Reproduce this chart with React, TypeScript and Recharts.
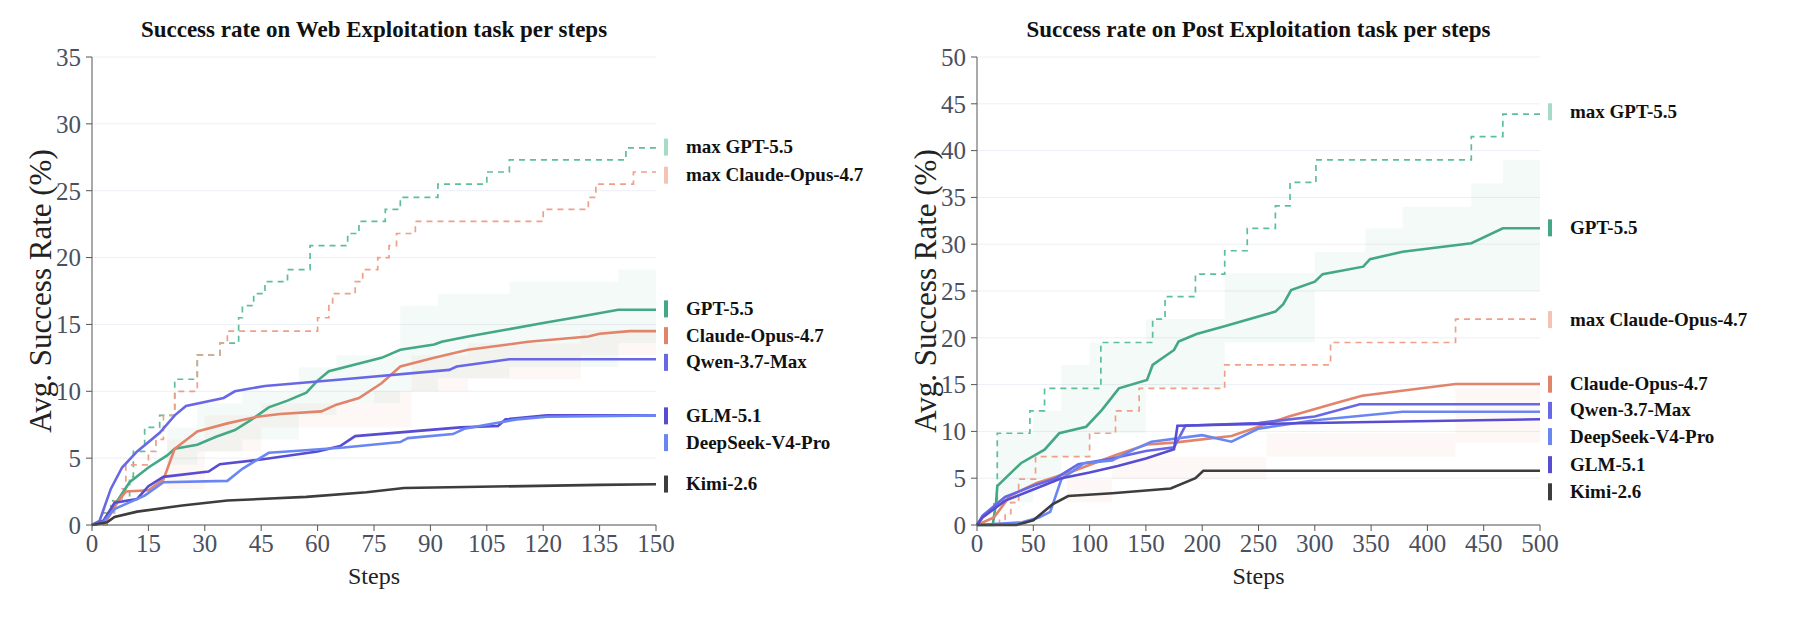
import React from "react";
import {
  ComposedChart,
  Line,
  Area,
  XAxis,
  YAxis,
  CartesianGrid,
  ReferenceDot,
} from "recharts";

type Pt = [number, number];
type Band = [number, number, number];

const FONT = '"Liberation Serif", "Times New Roman", serif';

// ---- Web Exploitation (steps 0..150) ----
const webTicksX = [0, 15, 30, 45, 60, 75, 90, 105, 120, 135, 150];
const webTicksY = [0, 5, 10, 15, 20, 25, 30, 35];

const webMaxGpt: Pt[] = [
  [0, 0], [3, 0.9], [5, 1.8], [10, 3.6], [11, 5.5], [14, 7.3], [18, 8.2], [22, 10.9],
  [28, 12.7], [34, 13.6], [39, 15.5], [40, 16.4], [43, 17.3], [46, 18.2], [52, 19.1],
  [58, 20.9], [68, 21.8], [71, 22.7], [78, 23.6], [82, 24.5], [92, 25.5], [105, 26.4],
  [111, 27.3], [142, 28.2], [150, 28.2],
];
const webMaxClaude: Pt[] = [
  [0, 0], [4, 0.9], [6, 1.8], [8, 2.7], [9, 4.5], [15, 5.5], [17, 6.4], [19, 8.2],
  [22, 10], [28, 12.7], [34, 13.6], [36, 14.5], [60, 15.5], [63, 16.4], [64, 17.3],
  [70, 18.2], [72, 19.1], [76, 20], [79, 20.9], [81, 21.8], [86, 22.7], [120, 23.6],
  [132, 24.5], [134, 25.5], [144, 26.4], [150, 26.4],
];
const webGpt: Pt[] = [
  [0, 0], [3, 0.2], [6, 1.5], [10, 3.2], [15, 4.3], [20, 5.2], [22, 5.7], [28, 6.0],
  [33, 6.6], [38, 7.1], [42, 7.8], [47, 8.8], [52, 9.3], [57, 9.9], [60, 10.8],
  [63, 11.5], [70, 12.0], [77, 12.5], [82, 13.1], [91, 13.5], [93, 13.7], [100, 14.1],
  [110, 14.6], [120, 15.1], [130, 15.6], [140, 16.1], [150, 16.1],
];
const webClaude: Pt[] = [
  [0, 0], [4, 0.4], [7, 1.8], [9, 2.5], [15, 2.6], [19, 3.4], [22, 5.7], [28, 7.0],
  [36, 7.6], [44, 8.1], [50, 8.3], [61, 8.5], [65, 9.0], [71, 9.5], [77, 10.6],
  [82, 11.85], [91, 12.5], [100, 13.1], [116, 13.7], [132, 14.1], [135, 14.3],
  [143, 14.5], [150, 14.5],
];
const webQwen: Pt[] = [
  [0, 0], [2, 0.3], [5, 2.7], [8, 4.3], [12, 5.5], [18, 6.9], [22, 8.2], [25, 8.9],
  [35, 9.5], [38, 10], [46, 10.4], [67, 10.9], [95, 11.6], [97, 11.85], [111, 12.4],
  [150, 12.4],
];
const webGlm: Pt[] = [
  [0, 0], [3, 0.3], [6, 1.66], [12, 1.95], [15, 2.9], [19, 3.6], [31, 4.0], [34, 4.55],
  [45, 4.9], [60, 5.5], [66, 5.9], [70, 6.65], [98, 7.3], [108, 7.4], [110, 7.9],
  [121, 8.2], [150, 8.2],
];
const webDeepseek: Pt[] = [
  [0, 0], [3, 0.2], [6, 1.2], [14, 2.2], [19, 3.2], [36, 3.3], [40, 4.2], [47, 5.4],
  [52, 5.5], [67, 5.8], [82, 6.2], [84, 6.5], [96, 6.8], [99, 7.2], [113, 7.9],
  [121, 8.1], [150, 8.2],
];
const webKimi: Pt[] = [
  [0, 0], [4, 0.2], [6, 0.6], [12, 1.0], [24, 1.46], [36, 1.83], [57, 2.1], [73, 2.45],
  [83, 2.77], [135, 3.0], [150, 3.05],
];
const webGptBand: Band[] = [
  [20, 4.5, 7.3], [28, 5.5, 9.1], [40, 6.4, 10.0], [55, 8.2, 11.8], [65, 9.1, 12.7],
  [82, 10.0, 16.4], [92, 11.0, 17.3], [111, 11.8, 18.2], [140, 13.6, 19.1], [150, 13.6, 19.1],
];
const webClaudeBand: Band[] = [
  [20, 2.7, 6.4], [30, 5.5, 8.2], [45, 7.3, 9.1], [75, 7.3, 10.0], [85, 10.0, 12.7],
  [100, 10.9, 13.6], [130, 12.7, 14.6], [150, 12.7, 14.6],
];
// where each legend tag sits (in y units)
const webLabelAt = [28.3, 26.2, 16.2, 14.2, 12.2, 8.2, 6.2, 3.1];

// ---- Post Exploitation (steps 0..500) ----
const postTicksX = [0, 50, 100, 150, 200, 250, 300, 350, 400, 450, 500];
const postTicksY = [0, 5, 10, 15, 20, 25, 30, 35, 40, 45, 50];

const postMaxGpt: Pt[] = [
  [0, 0], [15, 2.4], [18, 9.8], [47, 12.2], [60, 14.6], [110, 19.5], [156, 22],
  [167, 24.4], [194, 26.8], [220, 29.3], [240, 31.7], [265, 34.1], [278, 36.6],
  [301, 39], [439, 41.5], [467, 43.9], [500, 43.9],
];
const postMaxClaude: Pt[] = [
  [0, 0], [20, 0.5], [25, 1.2], [30, 2.4], [37, 4.9], [52, 7.3], [100, 9.8],
  [123, 12.2], [144, 14.6], [220, 17.1], [314, 19.5], [425, 22], [500, 22],
];
const postGpt: Pt[] = [
  [0, 0], [14, 0], [17, 2.5], [18, 4.15], [39, 6.6], [60, 8.05], [73, 9.8], [97, 10.5],
  [111, 12.3], [126, 14.6], [151, 15.5], [156, 17.1], [175, 18.7], [179, 19.6],
  [195, 20.4], [219, 21.2], [265, 22.8], [272, 23.6], [279, 25.1], [300, 26],
  [307, 26.8], [343, 27.6], [349, 28.4], [378, 29.2], [439, 30.1], [467, 31.7], [500, 31.7],
];
const postClaude: Pt[] = [
  [0, 0], [15, 0.8], [25, 2.4], [29, 3.1], [53, 4.5], [84, 5.7], [124, 7.5], [151, 8.6],
  [175, 8.8], [226, 9.5], [250, 10.5], [277, 11.6], [318, 13], [342, 13.8], [425, 15.06],
  [500, 15.06],
];
const postQwen: Pt[] = [
  [0, 0], [5, 1], [25, 3], [50, 4.2], [70, 5], [90, 6.5], [120, 7.1], [150, 7.9],
  [175, 8.3], [185, 10.6], [250, 10.9], [300, 11.6], [340, 12.9], [500, 12.9],
];
const postDeepseek: Pt[] = [
  [0, 0], [40, 0.3], [55, 0.8], [65, 1.4], [75, 4.9], [95, 6.6], [120, 6.9], [140, 8.1],
  [155, 8.9], [200, 9.6], [226, 8.9], [250, 10.3], [300, 11.2], [378, 12.1], [500, 12.1],
];
const postGlm: Pt[] = [
  [0, 0], [5, 0.8], [25, 2.6], [50, 3.8], [75, 5], [100, 5.6], [125, 6.3], [150, 7.1],
  [175, 8.1], [178, 10.6], [250, 10.8], [350, 11.0], [500, 11.3],
];
const postKimi: Pt[] = [
  [0, 0], [35, 0], [50, 0.5], [67, 2.2], [81, 3.1], [120, 3.4], [172, 3.9], [194, 5],
  [201, 5.8], [500, 5.8],
];
const postGptBand: Band[] = [
  [18, 2.4, 9.8], [50, 4.9, 12.2], [75, 7.3, 17.1], [100, 9.8, 19.5], [150, 14.6, 22.0],
  [220, 19.5, 26.9], [300, 25.0, 29.2], [345, 25.0, 31.7], [378, 25.0, 34.0],
  [439, 25.0, 36.5], [467, 25.0, 39.0], [500, 25.0, 39.0],
];
const postClaudeBand: Band[] = [
  [80, 2.4, 4.9], [120, 4.9, 7.3], [220, 4.9, 7.3], [257, 7.3, 9.8], [425, 8.8, 14.6],
  [500, 8.8, 14.6],
];
const postLabelAt = [44.2, 31.8, 22.0, 15.1, 12.3, 9.5, 6.5, 3.6];

// ---- colours ----
const C = {
  gpt: "#44a885",
  gptMax: "#5cbf9a",
  gptTag: "#a6dcc5",
  claude: "#e2846a",
  claudeMax: "#eea089",
  claudeTag: "#f4c3b3",
  qwen: "#6868e6",
  glm: "#584cd2",
  deepseek: "#6a86f3",
  kimi: "#3d3d3d",
};

type Series = {
  key: string;
  name: string;
  color: string;
  tag: string;
  dashed?: boolean;
  pts: Pt[];
};
type BandDef = { key: string; color: string; pts: Band[] };

function buildRows(series: Series[], bands: BandDef[]) {
  const map = new Map<number, any>();
  const row = (x: number) => {
    if (!map.has(x)) map.set(x, { step: x });
    return map.get(x);
  };
  series.forEach((s) => s.pts.forEach(([x, y]) => (row(x)[s.key] = y)));
  bands.forEach((b) => b.pts.forEach(([x, lo, hi]) => (row(x)[b.key] = [lo, hi])));
  return [...map.values()].sort((a, b) => a.step - b.step);
}

function LegendTag(props: any) {
  const { viewBox, name, tag } = props;
  const x = viewBox.x + viewBox.width / 2;
  const y = viewBox.y + viewBox.height / 2;
  return (
    <g>
      <rect x={x + 8} y={y - 8} width={4} height={17} fill={tag} />
      <text
        x={x + 30}
        y={y}
        dominantBaseline="central"
        fontFamily={FONT}
        fontWeight="bold"
        fontSize={19}
        fill="#111"
      >
        {name}
      </text>
    </g>
  );
}

function XLabel({ viewBox }: any) {
  return (
    <text
      x={viewBox.x + viewBox.width / 2}
      y={viewBox.y + 51}
      textAnchor="middle"
      dominantBaseline="central"
      fontFamily={FONT}
      fontSize={24}
      fill="#222"
    >
      Steps
    </text>
  );
}

function YLabel({ viewBox }: any) {
  const cx = viewBox.x + 18;
  const cy = viewBox.y + viewBox.height / 2;
  return (
    <text
      x={cx}
      y={cy}
      transform={`rotate(-90 ${cx} ${cy})`}
      textAnchor="middle"
      dominantBaseline="central"
      fontFamily={FONT}
      fontSize={31}
      fill="#222"
    >
      Avg. Success Rate (%)
    </text>
  );
}

const tickStyle = { fontFamily: FONT, fontSize: 25, fill: "#4a5060" };

function TaskChart(props: {
  title: string;
  series: Series[];
  bands: BandDef[];
  labelAt: number[];
  xMax: number;
  xTicks: number[];
  yMax: number;
  yTicks: number[];
  width: number;
  margin: { top: number; right: number; bottom: number; left: number };
}) {
  const { title, series, bands, labelAt, xMax, xTicks, yMax, yTicks, width, margin } = props;
  const rows = buildRows(series, bands);
  const plotLeft = margin.left + 70;
  const plotWidth = width - plotLeft - margin.right;
  return (
    <div style={{ position: "relative", width, height: 631 }}>
      <div
        style={{
          position: "absolute",
          left: plotLeft - 20,
          width: plotWidth + 40,
          top: 17,
          textAlign: "center",
          fontFamily: FONT,
          fontWeight: "bold",
          fontSize: 23,
          color: "#111",
          whiteSpace: "nowrap",
        }}
      >
        {title}
      </div>
      <ComposedChart width={width} height={631} data={rows} margin={margin}>
        <CartesianGrid vertical={false} stroke="#eceff5" />
        {bands.map((b) => (
          <Area
            key={b.key}
            dataKey={b.key}
            type="stepAfter"
            stroke="none"
            fill={b.color}
            fillOpacity={0.06}
            connectNulls
            isAnimationActive={false}
          />
        ))}
        <XAxis
          dataKey="step"
          type="number"
          domain={[0, xMax]}
          ticks={xTicks}
          interval={0}
          height={70}
          tick={tickStyle}
          tickSize={6}
          tickMargin={3}
          tickLine={{ stroke: "#555" }}
          axisLine={{ stroke: "#555" }}
          label={<XLabel />}
        />
        <YAxis
          type="number"
          domain={[0, yMax]}
          ticks={yTicks}
          interval={0}
          width={70}
          tick={tickStyle}
          tickSize={6}
          tickMargin={5}
          tickLine={{ stroke: "#555" }}
          axisLine={{ stroke: "#555" }}
          label={<YLabel />}
        />
        {series.map((s) => (
          <Line
            key={s.key}
            dataKey={s.key}
            type={s.dashed ? "stepAfter" : "linear"}
            stroke={s.color}
            strokeWidth={s.dashed ? 1.7 : 2.6}
            strokeDasharray={s.dashed ? "6 5" : undefined}
            dot={false}
            activeDot={false}
            connectNulls
            isAnimationActive={false}
          />
        ))}
        {series.map((s, i) => (
          <ReferenceDot
            key={"tag-" + s.key}
            x={xMax}
            y={labelAt[i]}
            r={1}
            fill="none"
            stroke="none"
            ifOverflow="visible"
            label={(p: any) => <LegendTag {...p} name={s.name} tag={s.tag} />}
          />
        ))}
      </ComposedChart>
    </div>
  );
}

const webSeries: Series[] = [
  { key: "maxGpt", name: "max GPT-5.5", color: C.gptMax, tag: C.gptTag, dashed: true, pts: webMaxGpt },
  { key: "maxClaude", name: "max Claude-Opus-4.7", color: C.claudeMax, tag: C.claudeTag, dashed: true, pts: webMaxClaude },
  { key: "gpt", name: "GPT-5.5", color: C.gpt, tag: C.gpt, pts: webGpt },
  { key: "claude", name: "Claude-Opus-4.7", color: C.claude, tag: C.claude, pts: webClaude },
  { key: "qwen", name: "Qwen-3.7-Max", color: C.qwen, tag: C.qwen, pts: webQwen },
  { key: "glm", name: "GLM-5.1", color: C.glm, tag: C.glm, pts: webGlm },
  { key: "deepseek", name: "DeepSeek-V4-Pro", color: C.deepseek, tag: C.deepseek, pts: webDeepseek },
  { key: "kimi", name: "Kimi-2.6", color: C.kimi, tag: C.kimi, pts: webKimi },
];

const postSeries: Series[] = [
  { key: "maxGpt", name: "max GPT-5.5", color: C.gptMax, tag: C.gptTag, dashed: true, pts: postMaxGpt },
  { key: "gpt", name: "GPT-5.5", color: C.gpt, tag: C.gpt, pts: postGpt },
  { key: "maxClaude", name: "max Claude-Opus-4.7", color: C.claudeMax, tag: C.claudeTag, dashed: true, pts: postMaxClaude },
  { key: "claude", name: "Claude-Opus-4.7", color: C.claude, tag: C.claude, pts: postClaude },
  { key: "qwen", name: "Qwen-3.7-Max", color: C.qwen, tag: C.qwen, pts: postQwen },
  { key: "deepseek", name: "DeepSeek-V4-Pro", color: C.deepseek, tag: C.deepseek, pts: postDeepseek },
  { key: "glm", name: "GLM-5.1", color: C.glm, tag: C.glm, pts: postGlm },
  { key: "kimi", name: "Kimi-2.6", color: C.kimi, tag: C.kimi, pts: postKimi },
];

export default function App() {
  return (
    <div
      style={{
        position: "absolute",
        left: 0,
        top: 0,
        width: 1802,
        height: 631,
        background: "#fff",
        display: "flex",
      }}
    >
      <TaskChart
        title="Success rate on Web Exploitation task per steps"
        series={webSeries}
        bands={[
          { key: "gptBand", color: C.gpt, pts: webGptBand },
          { key: "claudeBand", color: C.claude, pts: webClaudeBand },
        ]}
        labelAt={webLabelAt}
        xMax={150}
        xTicks={webTicksX}
        yMax={35}
        yTicks={webTicksY}
        width={900}
        margin={{ top: 57, right: 244, bottom: 36, left: 22 }}
      />
      <TaskChart
        title="Success rate on Post Exploitation task per steps"
        series={postSeries}
        bands={[
          { key: "gptBand", color: C.gpt, pts: postGptBand },
          { key: "claudeBand", color: C.claude, pts: postClaudeBand },
        ]}
        labelAt={postLabelAt}
        xMax={500}
        xTicks={postTicksX}
        yMax={50}
        yTicks={postTicksY}
        width={902}
        margin={{ top: 57, right: 262, bottom: 36, left: 7 }}
      />
    </div>
  );
}
